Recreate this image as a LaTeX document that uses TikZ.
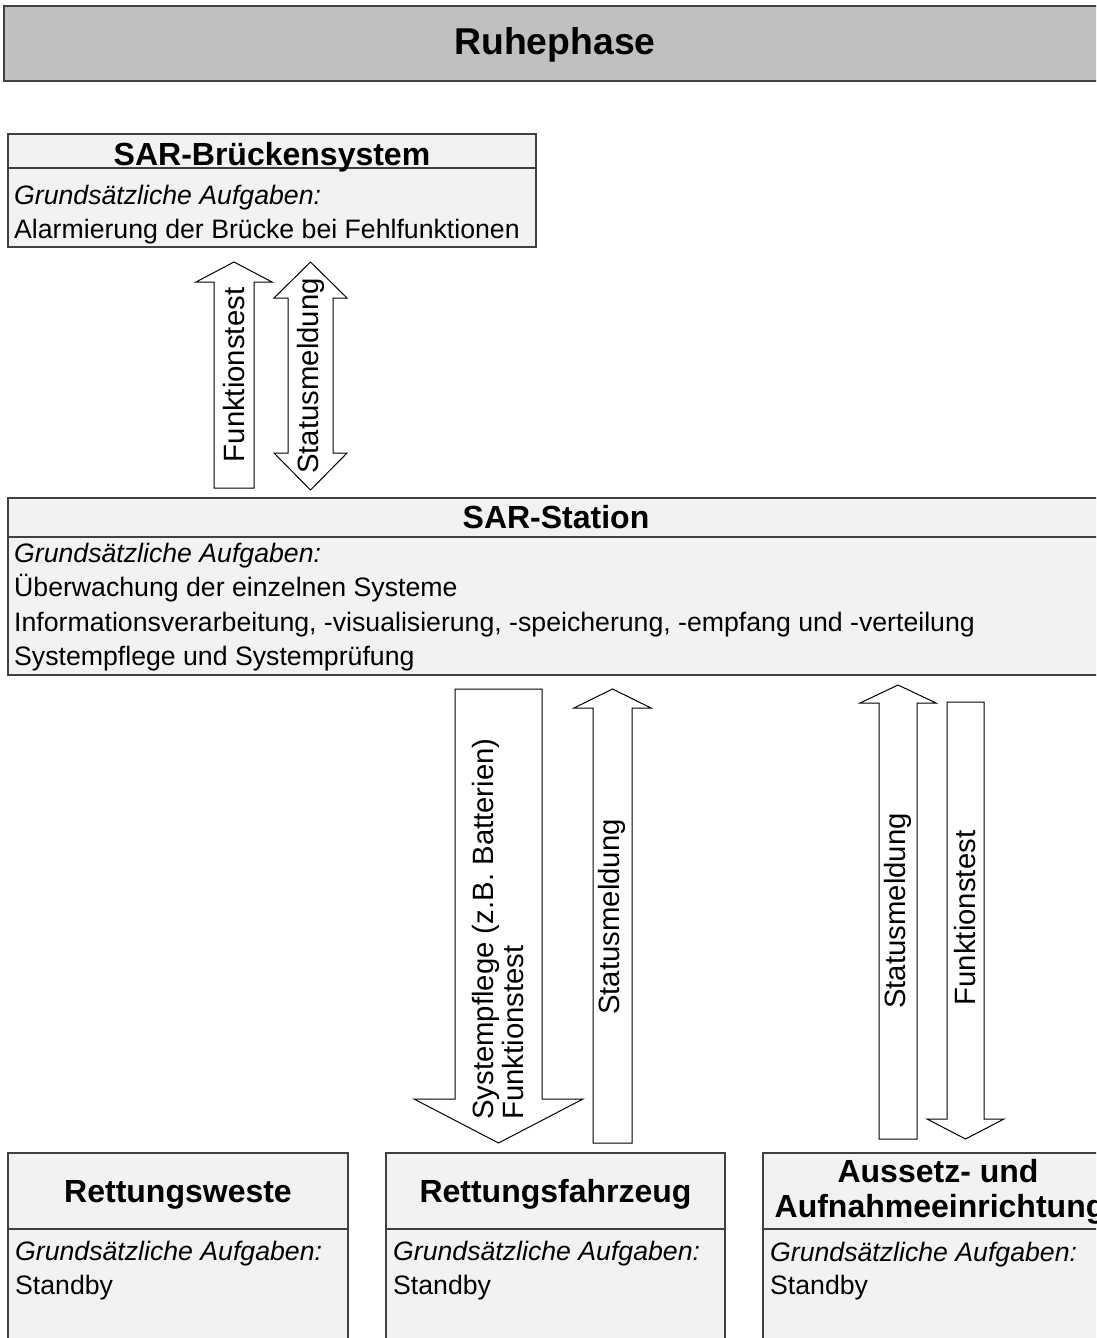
\documentclass[tikz,border=0pt]{standalone}
\usepackage{fontspec}
\setmainfont{Liberation Sans}
\definecolor{titlefill}{HTML}{C0C0C0}
\definecolor{panelfill}{HTML}{F2F2F2}
\definecolor{boxline}{HTML}{404040}

% block arrows: #1 centre x, #2 shaft half width, #3 head half width,
% #4 tip y, #5 head base y, #6 tail y (tail end y for the double arrow)
\newcommand\blkarrowone[6]{%
  \draw[blockarrow] ({#1-#2},#6) -- ({#1-#2},#5) -- ({#1-#3},#5) -- (#1,#4)
    -- ({#1+#3},#5) -- ({#1+#2},#5) -- ({#1+#2},#6) -- cycle;}
% double arrow: #1 cx, #2 shaft half, #3 head half, #4 top tip, #5 top base, #6 bottom base, #7 bottom tip
\newcommand\blkarrowtwo[7]{%
  \draw[blockarrow] ({#1-#2},#6) -- ({#1-#2},#5) -- ({#1-#3},#5) -- (#1,#4)
    -- ({#1+#3},#5) -- ({#1+#2},#5) -- ({#1+#2},#6) -- ({#1+#3},#6)
    -- (#1,#7) -- ({#1-#3},#6) -- cycle;}

\tikzset{
  panel/.style={draw=boxline, line width=1.4pt, fill=panelfill},
  divider/.style={draw=boxline, line width=1.4pt},
  blockarrow/.style={draw=black, line width=1pt, fill=white, line join=miter},
  hdr/.style={font=\fontsize{32}{36}\selectfont\bfseries, inner sep=0pt, anchor=base},
  body/.style={font=\fontsize{26.67}{32}\selectfont, inner sep=0pt, anchor=base west},
  ital/.style={body, font=\fontsize{26.67}{32}\selectfont\itshape},
  lbl/.style={font=\fontsize{29.33}{32}\selectfont, inner sep=0pt, rotate=90},
}

\begin{document}
\begin{tikzpicture}[x=1pt, y=-1pt]
\clip (0,0) rectangle (1096,1338);
\fill[white] (0,0) rectangle (1096,1338);

% phase banner
\draw[draw=boxline, line width=1.4pt, fill=titlefill] (4,6) rectangle (1110,81);
\node[font=\fontsize{37.33}{40}\selectfont\bfseries, inner sep=0pt, anchor=base] (phase) at (555,55) {Ruhephase};

% bridge system
\draw[panel] (8,134) rectangle (536,247);
\draw[divider] (8,168) -- (536,168);
\node[hdr] (bridge) at (272,165) {SAR-Brückensystem};
\node[ital] (bridge-l1) at (14,204) {Grundsätzliche Aufgaben:};
\node[body] (bridge-l2) at (14,238) {Alarmierung der Brücke bei Fehlfunktionen};

% arrows between bridge and station
\blkarrowone{234}{20}{38}{262}{282}{488}
\node[lbl] (test-a) at (234,375) {Funktionstest};
\blkarrowtwo{310.5}{22.5}{36.5}{262}{298}{453}{490}
\node[lbl] (status-a) at (311,376) {Statusmeldung};

% station
\draw[panel] (8,498) rectangle (1110,675);
\draw[divider] (8,537) -- (1110,537);
\node[hdr] (station) at (556,528) {SAR-Station};
\node[ital] (station-l1) at (14,562) {Grundsätzliche Aufgaben:};
\node[body] (station-l2) at (14,596) {Überwachung der einzelnen Systeme};
\node[body] (station-l3) at (14,631) {Informationsverarbeitung, -visualisierung, -speicherung, -empfang und -verteilung};
\node[body] (station-l4) at (14,665) {Systempflege und Systemprüfung};

% arrows between station and rescue vehicle
\blkarrowone{498.5}{43.5}{84.5}{1143}{1099}{689}
\node[lbl, anchor=base west] (care-a) at (493,1120) {Systempflege (z.B. Batterien)};
\node[lbl, anchor=base west] (test-b) at (523,1120) {Funktionstest};
\blkarrowone{612.5}{19.5}{38.5}{689}{708}{1143}
\node[lbl] (status-b) at (612,917) {Statusmeldung};

% arrows between station and launch/recovery unit
\blkarrowone{898}{19}{38}{685}{703}{1139}
\node[lbl] (status-c) at (898,911) {Statusmeldung};
\blkarrowone{965.5}{18.5}{38.5}{1139}{1119}{702}
\node[lbl] (test-c) at (965,918) {Funktionstest};

% life jacket
\draw[panel] (8,1153) rectangle (348,1350);
\draw[divider] (8,1229) -- (348,1229);
\node[hdr] (vest) at (178,1202) {Rettungsweste};
\node[ital] (vest-l1) at (15,1260) {Grundsätzliche Aufgaben:};
\node[body] (vest-l2) at (15,1294) {Standby};

% rescue vehicle
\draw[panel] (386,1153) rectangle (725,1350);
\draw[divider] (386,1229) -- (725,1229);
\node[hdr] (vehicle) at (555.5,1202) {Rettungsfahrzeug};
\node[ital] (vehicle-l1) at (393,1260) {Grundsätzliche Aufgaben:};
\node[body] (vehicle-l2) at (393,1294) {Standby};

% launch and recovery unit
\draw[panel] (763,1153) rectangle (1114,1350);
\draw[divider] (763,1229) -- (1114,1229);
\node[hdr] (launch-a) at (938,1182) {Aussetz- und};
\node[hdr] (launch-b) at (940,1217) {Aufnahmeeinrichtung};
\node[ital] (launch-l1) at (770,1261) {Grundsätzliche Aufgaben:};
\node[body] (launch-l2) at (770,1294) {Standby};
\end{tikzpicture}
\end{document}
